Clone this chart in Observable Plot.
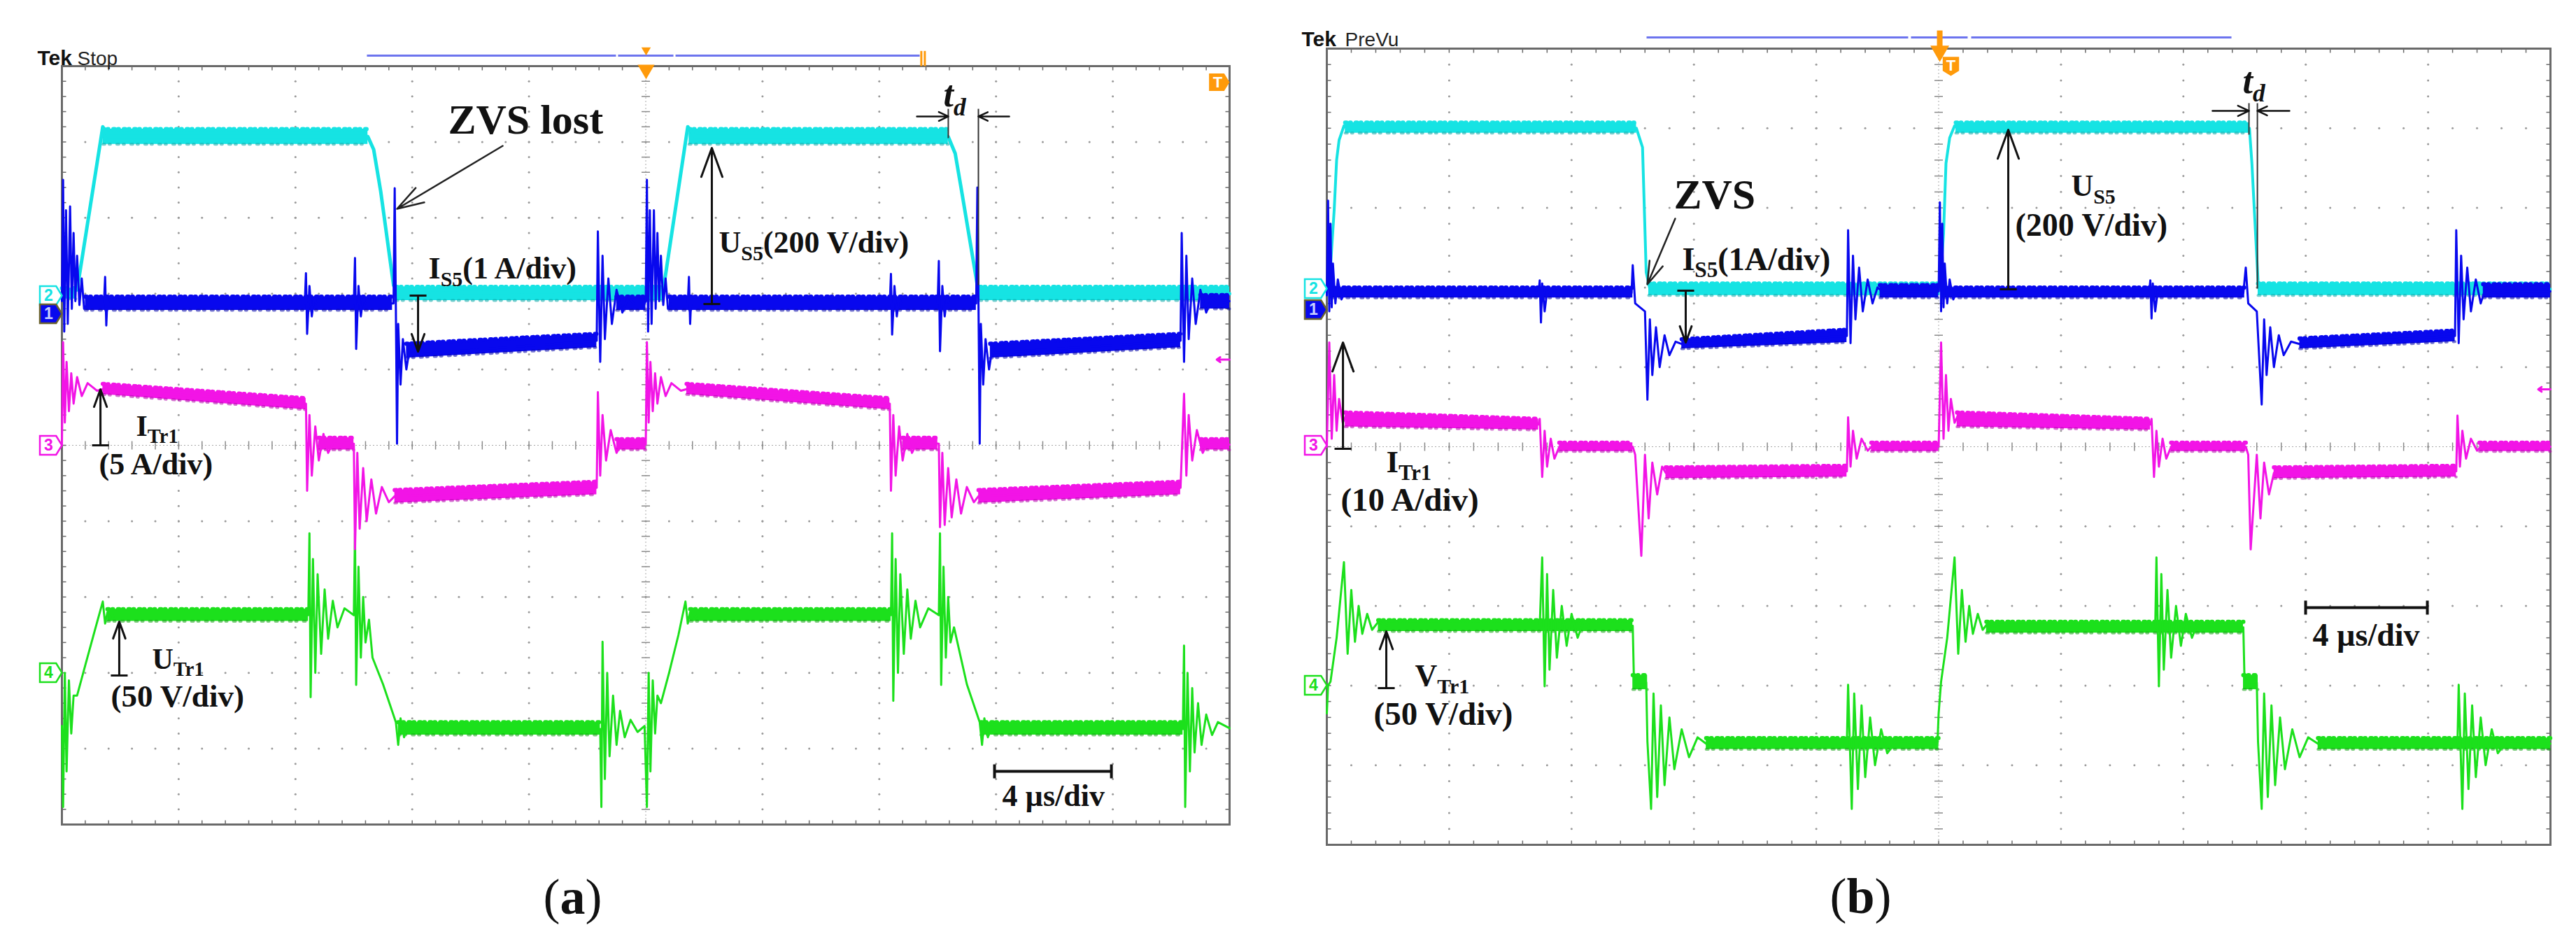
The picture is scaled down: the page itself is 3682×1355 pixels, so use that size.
<!DOCTYPE html>
<html><head><meta charset="utf-8">
<script src="https://cdn.jsdelivr.net/npm/d3@7"></script>
<script src="https://cdn.jsdelivr.net/npm/@observablehq/plot@0.6"></script>
<style>
html,body{margin:0;padding:0;background:#fff;}
#root{position:relative;width:3682px;height:1355px;overflow:hidden;background:#fff;}
#root svg{position:absolute;top:0;}
</style></head><body><div id="root"></div>
<script>
// ===== Graticule ticks (divisions) =====
const gridMajor = [0,1,2,3,4,5,6,7,8,9,10];
const gridMinor = d3.range(0, 51).map(i => i / 5);

// ===== Panel (a) traces, values in screen divisions (x: time div, y: div from bottom) =====
const a_cyan_bands = [
  [[0,6.93,7.07],[0.12,6.93,7.07]],
  [[0.35,8.97,9.17],[2.62,8.97,9.17]],
  [[2.86,6.91,7.09],[5.15,6.91,7.09]],
  [[5.37,8.97,9.17],[7.59,8.97,9.17]],
  [[7.86,6.91,7.09],[10,6.91,7.09]]
];
const a_cyan_line = [[0,7.0],[0.13,7.05],[0.35,9.2],[0.4,9.07],[2.62,9.07],[2.67,8.9],[2.73,8.35],[2.84,7.11],[2.88,7.0],[5.15,7.05],[5.36,9.2],[5.42,9.07],[7.59,9.07],[7.65,8.85],[7.7,8.4],[7.84,7.11],[7.88,7.0],[10,7.0]];

const a_blue_bands = [
  [[0.2,6.78,6.96],[2.83,6.78,6.96]],
  [[2.95,6.15,6.34],[4.58,6.29,6.47]],
  [[4.75,6.78,6.96],[5.0,6.78,6.96]],
  [[5.2,6.78,6.96],[7.83,6.78,6.96]],
  [[7.95,6.15,6.34],[9.58,6.29,6.47]],
  [[9.75,6.8,6.98],[10,6.8,6.98]]
];
const a_blue_line = [[0,6.9],[0.01,8.5],[0.02,6.5],[0.035,8.1],[0.05,6.6],[0.07,8.15],[0.085,6.8],[0.1,7.8],[0.115,6.9],[0.13,7.5],[0.15,6.85],[0.17,7.2],[0.19,6.8],[0.22,6.87],
 [0.36,6.87],[0.37,7.22],[0.38,6.58],[0.39,6.95],[0.4,6.87],
 [2.08,6.87],[2.09,7.27],[2.1,6.47],[2.12,7.1],[2.14,6.7],[2.16,6.95],[2.18,6.87],
 [2.5,6.87],[2.51,7.47],[2.52,6.27],[2.54,7.1],[2.56,6.7],[2.58,6.95],[2.6,6.87],
 [2.84,6.87],[2.85,8.39],[2.86,6.8],[2.87,5.02],[2.88,6.6],[2.9,5.8],[2.92,6.4],[2.95,6.0],[2.98,6.3],[3.02,6.2],[4.58,6.38],
 [4.59,7.82],[4.61,6.1],[4.63,7.5],[4.65,6.4],[4.68,7.2],[4.71,6.6],[4.75,7.05],[4.8,6.75],[4.85,6.95],[4.9,6.87],[4.99,6.87],
 [5.0,6.9],[5.01,8.5],[5.02,6.5],[5.035,8.1],[5.05,6.6],[5.07,8.1],[5.085,6.8],[5.1,7.8],[5.115,6.9],[5.13,7.5],[5.15,6.85],[5.17,7.2],[5.19,6.8],[5.22,6.87],
 [5.36,6.87],[5.37,7.22],[5.38,6.6],[5.39,6.95],[5.4,6.87],
 [7.09,6.87],[7.1,7.26],[7.11,6.46],[7.13,7.1],[7.15,6.7],[7.17,6.95],[7.19,6.87],
 [7.5,6.87],[7.51,7.43],[7.52,6.24],[7.54,7.1],[7.56,6.7],[7.58,6.95],[7.6,6.87],
 [7.83,6.87],[7.84,8.4],[7.85,6.8],[7.86,5.02],[7.87,6.6],[7.89,5.8],[7.91,6.4],[7.94,6.0],[7.97,6.3],[8.0,6.22],[9.58,6.38],
 [9.59,7.8],[9.61,6.1],[9.63,7.5],[9.65,6.4],[9.68,7.2],[9.71,6.6],[9.75,7.05],[9.8,6.75],[9.85,6.95],[9.9,6.87],[10,6.9]];

const a_mag_bands = [
  [[0.35,5.67,5.81],[2.09,5.47,5.62]],
  [[2.2,4.94,5.1],[2.5,4.94,5.1]],
  [[2.85,4.24,4.41],[4.58,4.35,4.52]],
  [[4.75,4.94,5.08],[5.0,4.94,5.08]],
  [[5.35,5.67,5.81],[7.09,5.47,5.62]],
  [[7.2,4.94,5.1],[7.5,4.94,5.1]],
  [[7.85,4.24,4.41],[9.58,4.35,4.52]],
  [[9.75,4.94,5.08],[10,4.94,5.08]]
];
const a_mag_line = [[0,5.0],[0.01,6.36],[0.025,5.3],[0.04,6.1],[0.06,5.45],[0.08,5.95],[0.1,5.55],[0.13,5.9],[0.17,5.65],[0.22,5.82],[0.3,5.72],[0.35,5.74],[2.09,5.55],
 [2.1,4.4],[2.12,5.4],[2.14,4.6],[2.17,5.25],[2.2,4.8],[2.24,5.15],[2.28,4.9],[2.33,5.05],[2.5,5.02],
 [2.51,3.63],[2.53,4.9],[2.55,3.9],[2.58,4.7],[2.61,4.0],[2.65,4.55],[2.69,4.1],[2.74,4.45],[2.8,4.25],[2.85,4.33],[4.58,4.44],
 [4.59,5.7],[4.61,4.6],[4.63,5.4],[4.66,4.8],[4.7,5.2],[4.75,4.9],[4.8,5.06],[4.9,5.01],[5.0,5.01],
 [5.01,6.36],[5.025,5.3],[5.04,6.1],[5.06,5.45],[5.08,5.95],[5.1,5.55],[5.13,5.9],[5.17,5.65],[5.22,5.82],[5.3,5.72],[5.35,5.74],[7.09,5.55],
 [7.1,4.4],[7.12,5.4],[7.14,4.6],[7.17,5.25],[7.2,4.8],[7.24,5.15],[7.28,4.9],[7.33,5.05],[7.51,5.02],
 [7.52,3.92],[7.54,4.9],[7.56,3.95],[7.59,4.7],[7.62,4.05],[7.66,4.55],[7.7,4.1],[7.75,4.45],[7.81,4.25],[7.85,4.33],[9.58,4.44],
 [9.61,5.68],[9.63,4.6],[9.65,5.4],[9.68,4.8],[9.72,5.2],[9.77,4.9],[9.82,5.06],[9.9,5.01],[10,5.01]];

const a_green_bands = [
  [[0.39,2.68,2.84],[2.11,2.68,2.84]],
  [[2.88,1.18,1.35],[4.61,1.18,1.35]],
  [[5.38,2.68,2.84],[7.1,2.68,2.84]],
  [[7.87,1.18,1.35],[9.6,1.18,1.35]]
];
const a_green_line = [[0,1.3],[0.01,0.23],[0.025,2.0],[0.04,0.7],[0.06,1.9],[0.08,1.2],[0.1,1.7],[0.13,1.7],[0.2,2.1],[0.28,2.55],[0.35,2.94],[0.37,2.65],[0.39,2.8],[0.42,2.7],[0.45,2.76],[2.11,2.76],
 [2.12,3.84],[2.13,1.68],[2.15,3.5],[2.17,2.0],[2.19,3.3],[2.22,2.25],[2.25,3.1],[2.28,2.45],[2.32,2.95],[2.36,2.6],[2.42,2.85],[2.5,2.76],
 [2.51,3.84],[2.52,1.84],[2.54,3.4],[2.56,2.2],[2.58,3.0],[2.6,2.4],[2.63,2.7],[2.66,2.2],[2.75,1.85],[2.86,1.35],[2.88,1.05],[2.9,1.4],[2.93,1.15],[2.96,1.3],[3.0,1.26],[4.61,1.26],
 [4.62,0.23],[4.63,2.41],[4.65,0.6],[4.67,2.0],[4.69,0.9],[4.72,1.7],[4.75,1.05],[4.78,1.5],[4.82,1.15],[4.87,1.38],[4.93,1.22],[4.99,1.3],
 [5.01,0.23],[5.025,2.0],[5.04,0.7],[5.06,1.9],[5.08,1.2],[5.1,1.7],[5.13,1.6],[5.2,2.0],[5.28,2.5],[5.34,2.94],[5.36,2.65],[5.38,2.8],[5.41,2.7],[5.44,2.76],[7.1,2.76],
 [7.11,3.84],[7.12,1.63],[7.14,3.5],[7.16,2.0],[7.18,3.3],[7.21,2.25],[7.24,3.1],[7.27,2.45],[7.31,2.95],[7.35,2.6],[7.42,2.85],[7.51,2.76],
 [7.52,3.84],[7.53,1.84],[7.55,3.4],[7.57,2.2],[7.59,3.0],[7.61,2.4],[7.64,2.6],[7.75,1.85],[7.86,1.35],[7.88,1.05],[7.9,1.4],[7.93,1.15],[7.96,1.3],[8.0,1.26],[9.6,1.26],
 [9.61,2.36],[9.62,0.23],[9.64,2.0],[9.66,0.7],[9.68,1.8],[9.7,0.95],[9.73,1.6],[9.76,1.05],[9.8,1.45],[9.85,1.18],[9.9,1.35],[10,1.27]];

// ===== Panel (b) traces =====
const b_cyan_bands = [
  [[0.15,8.94,9.07],[2.53,8.94,9.07]],
  [[2.63,6.9,7.05],[5.01,6.9,7.05]],
  [[5.14,8.94,9.07],[7.54,8.94,9.07]],
  [[7.61,6.9,7.05],[10,6.9,7.05]]
];
const b_cyan_line = [[0,6.98],[0.02,7.0],[0.04,7.5],[0.06,7.97],[0.08,8.6],[0.1,8.85],[0.14,9.03],[0.18,9.0],[2.53,9.0],[2.58,8.76],[2.61,7.19],[2.64,6.98],[5.01,6.98],[5.04,7.68],[5.06,8.56],[5.09,8.88],[5.13,9.03],[5.17,9.0],[7.54,9.0],[7.56,8.56],[7.58,7.97],[7.61,7.09],[7.62,6.98],[10,6.98]];

const b_blue_bands = [
  [[0.05,6.87,7.0],[2.5,6.87,7.0]],
  [[2.9,6.23,6.35],[4.25,6.31,6.47]],
  [[4.52,6.87,7.03],[5.0,6.87,7.03]],
  [[5.05,6.87,7.0],[7.5,6.87,7.0]],
  [[7.95,6.23,6.36],[9.22,6.32,6.46]],
  [[9.45,6.87,7.04],[10,6.87,7.04]]
];
const b_blue_line = [[0,6.9],[0.01,8.09],[0.02,6.7],[0.03,7.8],[0.04,6.75],[0.05,7.3],[0.07,6.8],[0.09,7.1],[0.12,6.85],[0.15,6.95],[0.2,6.93],
 [1.73,6.93],[1.74,7.09],[1.75,6.56],[1.76,7.05],[1.78,6.7],[1.8,6.95],[1.83,6.93],
 [2.49,6.93],[2.5,7.28],[2.52,6.8],[2.6,6.7],[2.62,5.59],[2.64,6.6],[2.66,5.9],[2.69,6.5],[2.72,6.0],[2.76,6.4],[2.8,6.15],[2.85,6.32],[2.9,6.29],[4.25,6.39],
 [4.26,7.72],[4.28,6.3],[4.3,7.4],[4.32,6.6],[4.35,7.25],[4.38,6.7],[4.42,7.1],[4.46,6.8],[4.5,7.0],[4.55,6.94],[5.0,6.95],
 [5.01,8.07],[5.02,6.7],[5.03,7.8],[5.04,6.75],[5.05,7.3],[5.07,6.8],[5.09,7.1],[5.12,6.85],[5.15,6.95],[5.2,6.93],
 [6.72,6.93],[6.73,7.09],[6.74,6.61],[6.75,7.05],[6.77,6.7],[6.79,6.95],[6.82,6.93],
 [7.49,6.93],[7.51,7.25],[7.53,6.8],[7.6,6.7],[7.64,5.53],[7.66,6.6],[7.68,5.9],[7.71,6.5],[7.74,6.0],[7.78,6.4],[7.82,6.15],[7.88,6.32],[7.95,6.29],[9.22,6.39],
 [9.23,7.72],[9.25,6.3],[9.27,7.4],[9.29,6.6],[9.32,7.25],[9.35,6.7],[9.39,7.1],[9.43,6.8],[9.47,7.0],[9.52,6.94],[10,6.95]];

const b_mag_bands = [
  [[0.15,5.25,5.43],[1.73,5.21,5.35]],
  [[1.9,4.94,5.05],[2.5,4.94,5.05]],
  [[2.77,4.6,4.74],[4.25,4.62,4.76]],
  [[4.45,4.94,5.05],[5.0,4.94,5.05]],
  [[5.15,5.25,5.43],[6.73,5.21,5.35]],
  [[6.9,4.94,5.05],[7.51,4.94,5.05]],
  [[7.74,4.6,4.74],[9.23,4.62,4.76]],
  [[9.42,4.94,5.05],[10,4.94,5.05]]
];
const b_mag_line = [[0,5.0],[0.02,6.31],[0.04,5.1],[0.06,5.9],[0.08,5.2],[0.1,5.6],[0.13,5.3],[0.16,5.4],[1.73,5.28],
 [1.74,5.35],[1.76,4.62],[1.78,5.2],[1.8,4.75],[1.83,5.1],[1.86,4.85],[1.9,5.0],[2.5,5.0],
 [2.52,4.9],[2.57,3.63],[2.6,4.9],[2.63,4.1],[2.66,4.8],[2.7,4.4],[2.74,4.75],[2.77,4.67],[4.25,4.69],
 [4.26,5.37],[4.28,4.75],[4.3,5.2],[4.33,4.85],[4.37,5.1],[4.42,4.95],[4.45,5.0],[5.0,5.0],
 [5.02,6.31],[5.04,5.1],[5.06,5.9],[5.08,5.2],[5.1,5.6],[5.13,5.3],[5.16,5.4],[6.73,5.28],
 [6.74,5.35],[6.76,4.62],[6.78,5.2],[6.8,4.75],[6.83,5.1],[6.86,4.85],[6.9,5.0],[7.51,5.0],
 [7.53,4.9],[7.55,3.71],[7.6,4.9],[7.63,4.1],[7.66,4.8],[7.7,4.4],[7.74,4.67],[9.23,4.69],
 [9.24,5.39],[9.26,4.75],[9.28,5.2],[9.31,4.85],[9.35,5.1],[9.4,4.95],[9.43,5.0],[10,5.0]];

const b_green_bands = [
  [[0.42,2.68,2.82],[2.5,2.68,2.82]],
  [[2.5,1.95,2.13],[2.62,1.95,2.13]],
  [[3.1,1.2,1.34],[5.0,1.2,1.34]],
  [[5.39,2.66,2.8],[7.49,2.66,2.8]],
  [[7.49,1.95,2.13],[7.61,1.95,2.13]],
  [[8.1,1.2,1.34],[10,1.2,1.34]]
];
const b_green_line = [[0,1.65],[0.01,2.0],[0.03,2.05],[0.08,2.6],[0.14,3.55],[0.17,2.4],[0.2,3.2],[0.23,2.55],[0.26,3.0],[0.29,2.65],[0.33,2.9],[0.37,2.7],[0.42,2.8],[0.5,2.75],[1.74,2.75],
 [1.76,3.61],[1.78,1.99],[1.8,3.4],[1.82,2.2],[1.85,3.2],[1.88,2.35],[1.92,3.0],[1.96,2.5],[2.0,2.9],[2.05,2.6],[2.1,2.82],[2.15,2.75],[2.5,2.75],
 [2.51,2.05],[2.61,2.04],[2.62,1.3],[2.65,0.45],[2.67,1.9],[2.7,0.6],[2.73,1.75],[2.76,0.75],[2.8,1.6],[2.84,0.95],[2.9,1.45],[2.96,1.1],[3.03,1.35],[3.1,1.27],[4.25,1.27],
 [4.26,2.01],[4.29,0.45],[4.31,1.9],[4.34,0.7],[4.37,1.75],[4.4,0.85],[4.44,1.6],[4.48,1.0],[4.53,1.45],[4.58,1.15],[4.65,1.3],[4.99,1.27],
 [5.0,1.65],[5.02,2.05],[5.07,2.6],[5.13,3.61],[5.16,2.4],[5.19,3.2],[5.22,2.55],[5.25,3.0],[5.28,2.65],[5.32,2.9],[5.36,2.7],[5.4,2.78],[5.5,2.73],[6.77,2.73],
 [6.78,3.61],[6.8,1.99],[6.82,3.4],[6.84,2.2],[6.87,3.2],[6.9,2.35],[6.94,3.0],[6.98,2.5],[7.02,2.9],[7.07,2.6],[7.12,2.8],[7.17,2.73],[7.49,2.73],
 [7.5,2.05],[7.6,2.04],[7.61,1.3],[7.64,0.45],[7.66,1.9],[7.69,0.6],[7.72,1.75],[7.75,0.75],[7.79,1.6],[7.83,0.95],[7.89,1.45],[7.95,1.1],[8.02,1.35],[8.1,1.27],[9.24,1.27],
 [9.25,2.01],[9.28,0.45],[9.3,1.9],[9.33,0.7],[9.36,1.75],[9.39,0.85],[9.43,1.6],[9.47,1.0],[9.52,1.45],[9.57,1.15],[9.64,1.3],[10,1.27]];

// channel ground markers (div from bottom)
const a_channels = [{ch:"2", y:6.974, key:"cyan"},{ch:"1", y:6.734, key:"blue"},{ch:"3", y:5.0, key:"mag"},{ch:"4", y:2.002, key:"green"}];
const b_channels = [{ch:"2", y:6.986, key:"cyan"},{ch:"1", y:6.722, key:"blue"},{ch:"3", y:5.018, key:"mag"},{ch:"4", y:2.004, key:"green"}];

// ===== styling =====
const C = {cyan:"#16E3E3", blue:"#0808EE", mag:"#F214E6", green:"#1CE01C", orange:"#FF9A0A", topLine:"#6C74EE", grid:"#9a9a9a", frame:"#6a6a6a", ink:"#111"};
const DARK = {cyan:"#0aa6a6", blue:"#0000a8", mag:"#b000aa", green:"#0c9e0c"};
const serif = "Liberation Serif, Times New Roman, serif";
const sans = "Liberation Sans, Arial, sans-serif";
const NS = "http://www.w3.org/2000/svg";

const tagRight = {draw(ctx, size){ const r = Math.sqrt(size/Math.PI); ctx.moveTo(-1.1*r,-0.9*r); ctx.lineTo(0.45*r,-0.9*r); ctx.lineTo(r,0); ctx.lineTo(0.45*r,0.9*r); ctx.lineTo(-1.1*r,0.9*r); ctx.closePath(); }};
const tagDown = {draw(ctx, size){ const r = Math.sqrt(size/Math.PI); ctx.moveTo(-0.9*r,-1.1*r); ctx.lineTo(0.9*r,-1.1*r); ctx.lineTo(0.9*r,0.45*r); ctx.lineTo(0,r); ctx.lineTo(-0.9*r,0.45*r); ctx.closePath(); }};

function richify(svg){
  svg.querySelectorAll("text").forEach(t => {
    const s = t.textContent;
    if (!/[_*]\{/.test(s)) return;
    while (t.firstChild) t.removeChild(t.firstChild);
    const re = /([_*])\{([^}]*)\}/g;
    let last = 0, m, lowered = false;
    const add = (str, kind) => {
      if (!str) return;
      const sp = document.createElementNS(NS, "tspan");
      sp.textContent = str;
      if (kind === "_") { sp.setAttribute("font-size","0.68em"); if (!lowered) sp.setAttribute("dy","0.34em"); lowered = true; }
      else {
        if (lowered) { sp.setAttribute("dy","-0.2312em"); lowered = false; }
        if (kind === "*") sp.setAttribute("font-weight","bold");
      }
      t.appendChild(sp);
    };
    while ((m = re.exec(s))) { add(s.slice(last, m.index), ""); add(m[2], m[1]); last = re.lastIndex; }
    add(s.slice(last), "");
  });
}

const lab = (x, y, text, size, o = {}) => Plot.text([{x, y, text}], {x:"x", y:"y", text:"text", fontSize:size, fontFamily:serif, fontWeight:"bold", textAnchor:"start", lineAnchor:"bottom", fill:C.ink, ...o});
const arr = (x1, y1, x2, y2, o = {}) => Plot.arrow([{x1, y1, x2, y2}], {x1:"x1", y1:"y1", x2:"x2", y2:"y2", stroke:C.ink, strokeWidth:3, headLength:22, headAngle:40, ...o});
const seg = (x1, y1, x2, y2, o = {}) => Plot.link([{x1, y1, x2, y2}], {x1:"x1", y1:"y1", x2:"x2", y2:"y2", stroke:C.ink, strokeWidth:3, ...o});

function scope(p){
  const kx = (p.W - p.mL - p.mR) / 10, ky = (p.H - p.mT - p.mB) / 10;
  const ex = 6 / kx, ey = 6 / ky;
  const dots = [];
  for (const m of gridMajor) { if (m === 0 || m === 10 || m === 5) continue; for (const t of gridMinor) { dots.push({x:m, y:t}); dots.push({x:t, y:m}); } }
  const edge = [], center = [];
  for (const t of gridMinor) {
    edge.push({x1:t,y1:10,x2:t,y2:10-ey},{x1:t,y1:0,x2:t,y2:ey},{x1:0,y1:t,x2:ex,y2:t},{x1:10,y1:t,x2:10-ex,y2:t});
    center.push({x1:5-ex,y1:t,x2:5+ex,y2:t},{x1:t,y1:5-ey,x2:t,y2:5+ey});
  }
  const flat = bands => bands.flatMap((sg, i) => sg.map(([x, lo, hi]) => ({x, lo, hi, z:i})));
  const traces = [];
  for (const tr of p.traces) {
    const fb = flat(tr.bands);
    traces.push(Plot.areaY(fb, {x:"x", y1:"lo", y2:"hi", z:"z", fill:C[tr.key]}));
    traces.push(Plot.line(fb, {x:"x", y:"hi", z:"z", stroke:C[tr.key], strokeWidth:6, strokeDasharray:"2,5,1,7"}));
    traces.push(Plot.line(fb, {x:"x", y:"lo", z:"z", stroke:DARK[tr.key], strokeWidth:4, strokeOpacity:0.55, strokeDasharray:"3,6,2,9"}));
    traces.push(Plot.line(tr.line, {x:d => d[0], y:d => d[1], stroke:C[tr.key], strokeWidth:tr.w || 3, strokeLinejoin:"round"}));
  }
  const chans = [];
  for (const c of p.channels) {
    const filled = c.ch === "1";
    chans.push(Plot.dot([c], {x:0, y:"y", dx:-15, r:15, symbol:tagRight, fill: filled ? C[c.key] : "#fff", stroke: filled ? "#6b6330" : C[c.key], strokeWidth:2.5}));
    chans.push(Plot.text([c], {x:0, y:"y", dx:-19, text:"ch", fill: filled ? "#c8d0ff" : C[c.key], fontFamily:sans, fontWeight:"bold", fontSize:23}));
  }
  const svg = Plot.plot({
    width:p.W, height:p.H, marginLeft:p.mL, marginRight:p.mR, marginTop:p.mT, marginBottom:p.mB,
    x:{domain:[0,10], axis:null}, y:{domain:[0,10], axis:null},
    style:{background:"transparent", overflow:"visible"},
    marks:[
      Plot.dot(dots, {x:"x", y:"y", r:1.5, fill:C.grid}),
      Plot.ruleX([5], {stroke:"#a8a8a8", strokeWidth:1, strokeDasharray:"2,3"}),
      Plot.ruleY([5], {stroke:"#a8a8a8", strokeWidth:1, strokeDasharray:"2,3"}),
      Plot.link(center, {x1:"x1", y1:"y1", x2:"x2", y2:"y2", stroke:"#8a8a8a", strokeWidth:1.5}),
      Plot.link(edge, {x1:"x1", y1:"y1", x2:"x2", y2:"y2", stroke:C.frame, strokeWidth:1.5}),
      Plot.frame({stroke:C.frame, strokeWidth:3}),
      ...traces,
      ...chans,
      ...p.extra
    ]
  });
  svg.style.left = p.left + "px";
  richify(svg);
  return svg;
}

const root = document.getElementById("root");

// ----- Panel (a) -----
root.appendChild(scope({
  left:0, W:1840, H:1355, mL:88, mR:83, mT:94, mB:177,
  traces:[
    {key:"green", bands:a_green_bands, line:a_green_line},
    {key:"mag", bands:a_mag_bands, line:a_mag_line},
    {key:"cyan", bands:a_cyan_bands, line:a_cyan_line, w:5},
    {key:"blue", bands:a_blue_bands, line:a_blue_line}
  ],
  channels:a_channels,
  extra:[
    Plot.text([{x:-0.21, y:10.018, t:"Tek"}], {x:"x", y:"y", text:"t", fontFamily:sans, fontWeight:"bold", fontSize:30, textAnchor:"start", lineAnchor:"bottom", fill:"#111"}),
    Plot.text([{x:0.132, y:10.018, t:"Stop"}], {x:"x", y:"y", text:"t", fontFamily:sans, fontSize:28, textAnchor:"start", lineAnchor:"bottom", fill:"#222"}),
    Plot.link([{x1:2.612,x2:4.745},{x1:4.763,x2:5.237},{x1:5.255,x2:7.346}], {x1:"x1", x2:"x2", y1:10.138, y2:10.138, stroke:C.topLine, strokeWidth:3}),
    Plot.dot([{x:5.003, y:10.212}], {x:"x", y:"y", symbol:"triangle", rotate:180, r:5, fill:C.orange}),
    Plot.dot([{x:5.003, y:9.955}], {x:"x", y:"y", symbol:"triangle", rotate:180, r:9, fill:C.orange}),
    Plot.link([{x:7.36},{x:7.39}], {x1:"x", x2:"x", y1:10.2, y2:10.0, stroke:C.orange, strokeWidth:3}),
    Plot.dot([{x:10, y:9.788}], {x:"x", y:"y", dx:-14, r:14, symbol:tagRight, fill:C.orange}),
    Plot.text([{x:10, y:9.788, t:"T"}], {x:"x", y:"y", dx:-17, text:"t", fill:"#fff", fontFamily:sans, fontWeight:"bold", fontSize:22}),
    Plot.arrow([{x1:10, y1:6.13, x2:9.89, y2:6.13}], {x1:"x1", y1:"y1", x2:"x2", y2:"y2", stroke:C.mag, strokeWidth:3, headLength:10, headAngle:70}),
    lab(3.307, 9.114, "ZVS lost", 60),
    arr(3.775, 8.948, 2.87, 8.118, {strokeWidth:2.5, headLength:24, headAngle:35, stroke:"#222"}),
    lab(3.14, 7.196, "I_{S5}(1 A/div)", 44),
    seg(2.978, 6.974, 3.122, 6.974),
    arr(3.05, 6.974, 3.05, 6.236),
    lab(5.626, 7.537, "U_{S5}(200 V/div)", 44),
    seg(5.494, 6.863, 5.638, 6.863),
    arr(5.566, 6.863, 5.566, 8.921),
    lab(7.549, 9.465, "t_{d}", 52, {fontStyle:"italic"}),
    seg(7.591, 9.437, 7.591, 9.05, {strokeWidth:2, stroke:"#333"}),
    seg(7.849, 9.437, 7.849, 7.113, {strokeWidth:2, stroke:"#333"}),
    arr(7.322, 9.336, 7.591, 9.336, {strokeWidth:2.5, headLength:16, headAngle:50}),
    arr(8.113, 9.336, 7.849, 9.336, {strokeWidth:2.5, headLength:16, headAngle:50}),
    lab(0.635, 5.12, "I_{Tr1}", 42),
    lab(0.318, 4.62, "(5 A/div)", 44),
    seg(0.258, 5.0, 0.402, 5.0),
    arr(0.33, 5.0, 0.33, 5.738),
    lab(0.773, 2.048, "U_{Tr1}", 42),
    lab(0.419, 1.55, "(50 V/div)", 45),
    seg(0.419, 1.965, 0.563, 1.965),
    arr(0.491, 1.965, 0.491, 2.675),
    seg(7.987, 0.701, 8.988, 0.701, {strokeWidth:4}),
    seg(7.987, 0.609, 7.987, 0.793, {strokeWidth:4}),
    seg(8.988, 0.609, 8.988, 0.793, {strokeWidth:4}),
    lab(8.053, 0.24, "4 µs/div", 44),
    Plot.text([{x:4.374, y:-1.172, t:"(*{a})"}], {x:"x", y:"y", text:"t", fontFamily:serif, fontSize:72, textAnchor:"middle", lineAnchor:"bottom", fill:"#111"})
  ]
}));

// ----- Panel (b) -----
root.appendChild(scope({
  left:1840, W:1842, H:1355, mL:56, mR:37, mT:69, mB:148,
  traces:[
    {key:"green", bands:b_green_bands, line:b_green_line},
    {key:"mag", bands:b_mag_bands, line:b_mag_line},
    {key:"cyan", bands:b_cyan_bands, line:b_cyan_line, w:4},
    {key:"blue", bands:b_blue_bands, line:b_blue_line}
  ],
  channels:b_channels,
  extra:[
    Plot.text([{x:-0.206, y:10.035, t:"Tek"}], {x:"x", y:"y", text:"t", fontFamily:sans, fontWeight:"bold", fontSize:30, textAnchor:"start", lineAnchor:"bottom", fill:"#111"}),
    Plot.text([{x:0.149, y:10.035, t:"PreVu"}], {x:"x", y:"y", text:"t", fontFamily:sans, fontSize:28, textAnchor:"start", lineAnchor:"bottom", fill:"#222"}),
    Plot.link([{x1:2.613,x2:4.751},{x1:4.774,x2:5.237},{x1:5.266,x2:7.393}], {x1:"x1", x2:"x2", y1:10.141, y2:10.141, stroke:C.topLine, strokeWidth:3}),
    Plot.link([{x:5.009}], {x1:"x", x2:"x", y1:10.228, y2:10.02, stroke:C.orange, strokeWidth:8}),
    Plot.dot([{x:5.009, y:9.97}], {x:"x", y:"y", symbol:"triangle", rotate:180, r:10, fill:C.orange}),
    Plot.dot([{x:5.1, y:9.772}], {x:"x", y:"y", r:13, symbol:tagDown, fill:C.orange}),
    Plot.text([{x:5.1, y:9.785, t:"T"}], {x:"x", y:"y", text:"t", fill:"#fff", fontFamily:sans, fontWeight:"bold", fontSize:22}),
    Plot.arrow([{x1:10, y1:5.721, x2:9.9, y2:5.721}], {x1:"x1", y1:"y1", x2:"x2", y2:"y2", stroke:C.mag, strokeWidth:3, headLength:10, headAngle:70}),
    lab(2.836, 7.996, "ZVS", 60),
    arr(2.847, 7.865, 2.619, 7.039, {strokeWidth:2.5, headLength:24, headAngle:35, stroke:"#222"}),
    lab(2.904, 7.223, "I_{S5}(1A/div)", 46),
    seg(2.864, 6.96, 3.002, 6.96),
    arr(2.933, 6.96, 2.933, 6.309),
    lab(6.083, 8.146, "U_{S5}", 44),
    lab(5.626, 7.645, "(200 V/div)", 46),
    seg(5.5, 6.977, 5.638, 6.977),
    arr(5.569, 6.977, 5.569, 8.981),
    lab(7.484, 9.438, "t_{d}", 52, {fontStyle:"italic"}),
    seg(7.536, 9.315, 7.536, 8.919, {strokeWidth:2, stroke:"#333"}),
    seg(7.605, 9.315, 7.605, 6.986, {strokeWidth:2, stroke:"#333"}),
    arr(7.238, 9.218, 7.536, 9.218, {strokeWidth:2.5, headLength:16, headAngle:50}),
    arr(7.867, 9.218, 7.605, 9.218, {strokeWidth:2.5, headLength:16, headAngle:50}),
    lab(0.486, 4.675, "I_{Tr1}", 45),
    lab(0.114, 4.192, "(10 A/div)", 47),
    seg(0.063, 4.974, 0.201, 4.974),
    arr(0.132, 4.974, 0.132, 6.309),
    lab(0.72, 1.995, "V_{Tr1}", 44),
    lab(0.383, 1.503, "(50 V/div)", 47),
    seg(0.417, 1.968, 0.555, 1.968),
    arr(0.486, 1.968, 0.486, 2.68),
    seg(7.999, 2.979, 8.994, 2.979, {strokeWidth:4}),
    seg(7.999, 2.891, 7.999, 3.067, {strokeWidth:4}),
    seg(8.994, 2.891, 8.994, 3.067, {strokeWidth:4}),
    lab(8.056, 2.504, "4 µs/div", 46),
    Plot.text([{x:4.362, y:-0.861, t:"(*{b})"}], {x:"x", y:"y", text:"t", fontFamily:serif, fontSize:72, textAnchor:"middle", lineAnchor:"bottom", fill:"#111"})
  ]
}));
</script></body></html>
